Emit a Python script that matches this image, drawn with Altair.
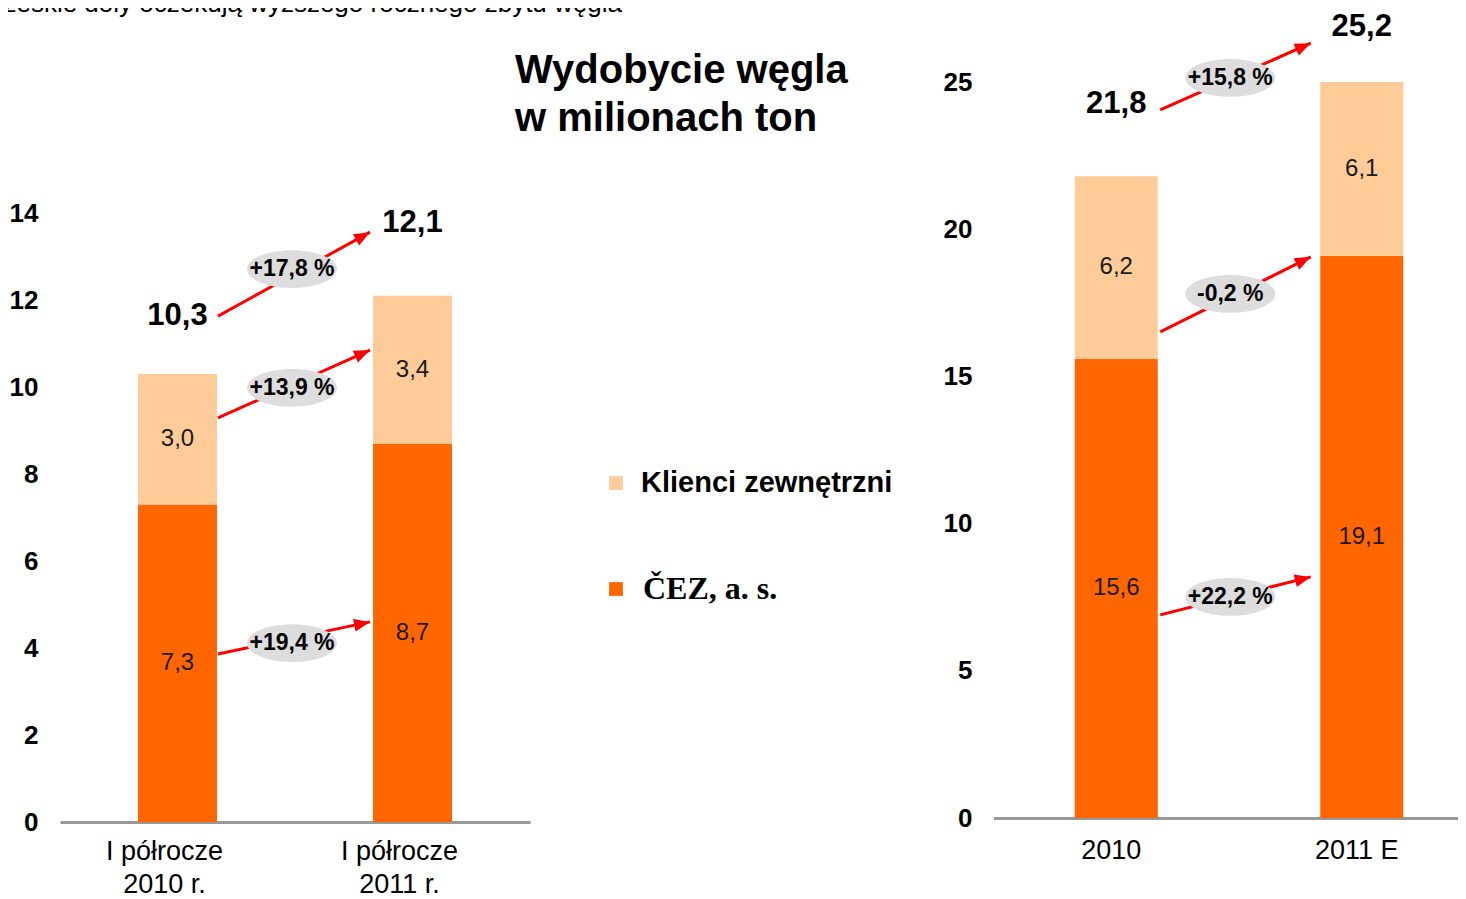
import math
import altair as alt
import pandas as pd

# ---------------- data ----------------
TOP_TEXT = "Czeskie doły oczekują wyższego rocznego zbytu węgla"
TITLE_LINES = ["Wydobycie węgla", "w milionach ton"]
SERIES = ["Klienci zewnętrzni", "ČEZ, a. s."]
COLORS = ["#FFCC99", "#FF6600"]

# half-year panel
cats_h = ["I półrocze\n2010 r.", "I półrocze\n2011 r."]
cez_h = [7.3, 8.7]
ext_h = [3.0, 3.4]
tot_h = [10.3, 12.1]
pct_h = ["+17,8 %", "+13,9 %", "+19,4 %"]   # total, external, ČEZ
yticks_h = [0, 2, 4, 6, 8, 10, 12, 14]

# full-year panel
cats_y = ["2010", "2011 E"]
cez_y = [15.6, 19.1]
ext_y = [6.2, 6.1]
tot_y = [21.8, 25.2]
pct_y = ["+15,8 %", "-0,2 %", "+22,2 %"]
yticks_y = [0, 5, 10, 15, 20, 25]

# annotation anchor heights, in data units
arrow_from_h = [11.63, 9.29, 3.86]
arrow_to_h = [13.56, 10.85, 4.60]
bubble_h = [12.71, 9.98, 4.11]
total_lbl_h = [11.63, 13.77]

arrow_from_y = [24.05, 16.51, 6.90]
arrow_to_y = [26.32, 19.06, 8.19]
bubble_y = [25.14, 17.80, 7.51]
total_lbl_y = [24.25, 26.87]

# ---------------- helpers ----------------
W, H = 1450, 891
SANS = "Liberation Sans, Arial, sans-serif"
NARROW = "Liberation Sans Narrow, Arial Narrow, Liberation Sans, sans-serif"
SERIF = "Liberation Serif, Times New Roman, serif"
ARROW = "M 0 0 L 0.8 2 L -0.8 2 Z"
ELLIPSE = "M -1 0 A 1 0.42 0 1 1 1 0 A 1 0.42 0 1 1 -1 0 Z"


def fmt(v):
    return f"{v:.1f}".replace(".", ",")


def panel(cats, cez, ext, tot, pcts, a_from, a_to, bub, tl, ymax, yticks,
          xrange, yrange, barsize, off_start, off_end, bub_off,
          x_off, y_off, y_lab_pad, x_lab_pad, x_lab_dx):
    rows = []
    for i, c in enumerate(cats):
        rows.append(dict(kat=c, series=SERIES[1], ord=0, v=cez[i],
                         y0=0.0, y1=cez[i]))
        rows.append(dict(kat=c, series=SERIES[0], ord=1, v=ext[i],
                         y0=cez[i], y1=min(cez[i] + ext[i], ymax)))
    df = pd.DataFrame(rows)
    df["mid"] = (df.y0 + df.y1) / 2
    df["lbl"] = df.v.map(fmt)

    xs = alt.Scale(domain=cats, range=xrange, paddingInner=0, paddingOuter=0)
    ys = alt.Scale(domain=[0, ymax], range=yrange, nice=False)

    xaxis = alt.Axis(orient="bottom", offset=x_off, title=None, ticks=False,
                     grid=False, domainColor="#999999", domainWidth=3,
                     labelFont=SANS, labelFontSize=27, labelColor="black",
                     labelAngle=0, labelPadding=x_lab_pad, labelLineHeight=33,
                     labelBaseline="top", labelOffset=x_lab_dx,
                     labelExpr="split(datum.label, '\\n')")
    yaxis = alt.Axis(orient="left", offset=y_off, title=None, ticks=False,
                     grid=False, domain=False, values=yticks,
                     labelFont=NARROW, labelFontWeight="bold",
                     labelFontSize=26, labelColor="black",
                     labelPadding=y_lab_pad, labelOverlap=False)

    bars = alt.Chart(df).mark_bar(size=barsize).encode(
        x=alt.X("kat:N", scale=xs, axis=xaxis, sort=cats),
        y=alt.Y("y0:Q", scale=ys, axis=yaxis),
        y2="y1:Q",
        color=alt.Color("series:N",
                        scale=alt.Scale(domain=SERIES, range=COLORS),
                        legend=None),
    )
    seg_lbl = alt.Chart(df).mark_text(font=SANS, fontSize=24,
                                      color="#1a1a1a").encode(
        x=alt.X("kat:N", scale=xs, axis=None),
        y=alt.Y("mid:Q", scale=ys, axis=None),
        text="lbl:N",
    )

    dft = pd.DataFrame(dict(kat=cats, yl=tl, lbl=[fmt(t) for t in tot]))
    tot_lbl = alt.Chart(dft).mark_text(font=SANS, fontSize=31,
                                       fontWeight="bold",
                                       color="black").encode(
        x=alt.X("kat:N", scale=xs, axis=None),
        y=alt.Y("yl:Q", scale=ys, axis=None),
        text="lbl:N",
    )

    step = (xrange[1] - xrange[0]) / 2
    pxu = (yrange[0] - yrange[1]) / ymax
    dx = step - off_start + off_end
    angs = [math.degrees(math.atan2(dx, (b - a) * pxu))
            for a, b in zip(a_from, a_to)]
    dfa = pd.DataFrame(dict(c0=[cats[0]] * 3, c1=[cats[1]] * 3,
                            ya=a_from, yb=a_to, yc=bub, pct=pcts, ang=angs))

    rules = alt.Chart(dfa).mark_rule(color="#FF0000", strokeWidth=3,
                                     xOffset=off_start,
                                     x2Offset=off_end).encode(
        x=alt.X("c0:N", scale=xs, axis=None),
        x2="c1:N",
        y=alt.Y("ya:Q", scale=ys, axis=None),
        y2="yb:Q",
    )
    heads = alt.Chart(dfa).mark_point(shape=ARROW, size=256, filled=True,
                                      color="#FF0000", opacity=1,
                                      strokeWidth=0,
                                      xOffset=off_end).encode(
        x=alt.X("c1:N", scale=xs, axis=None),
        y=alt.Y("yb:Q", scale=ys, axis=None),
        angle=alt.Angle("ang:Q", scale=None),
    )
    bubbles = alt.Chart(dfa).mark_point(shape=ELLIPSE, size=8100,
                                        filled=True, color="#DDDDDD",
                                        opacity=1, strokeWidth=0,
                                        xOffset=bub_off).encode(
        x=alt.X("c0:N", scale=xs, axis=None),
        y=alt.Y("yc:Q", scale=ys, axis=None),
    )
    pct_txt = alt.Chart(dfa).mark_text(font=SANS, fontSize=23,
                                       fontWeight="bold", color="black",
                                       xOffset=bub_off).encode(
        x=alt.X("c0:N", scale=xs, axis=None),
        y=alt.Y("yc:Q", scale=ys, axis=None),
        text="pct:N",
    )
    return [bars, seg_lbl, tot_lbl, rules, heads, bubbles, pct_txt]


left = panel(cats_h, cez_h, ext_h, tot_h, pct_h, arrow_from_h, arrow_to_h,
             bubble_h, total_lbl_h, 14, yticks_h,
             xrange=[52, 522], yrange=[814, 205], barsize=79,
             off_start=40.5, off_end=-42.5, bub_off=114.5,
             x_off=814 - H, y_off=-52, y_lab_pad=22, x_lab_pad=16,
             x_lab_dx=-13)

right = panel(cats_y, cez_y, ext_y, tot_y, pct_y, arrow_from_y, arrow_to_y,
              bubble_y, total_lbl_y, 25, yticks_y,
              xrange=[985.5, 1476.5], yrange=[810, 74], barsize=83,
              off_start=44, off_end=-51, bub_off=114,
              x_off=810 - H, y_off=-985.5, y_lab_pad=21.5, x_lab_pad=19,
              x_lab_dx=-5)

one = pd.DataFrame({"k": [0]})

top_text = alt.Chart(one).mark_text(font=SANS, fontSize=26, align="right",
                                    baseline="alphabetic",
                                    color="black").encode(
    x=alt.value(614), y=alt.value(3.5), text=alt.value(TOP_TEXT))

title = alt.Chart(one).mark_text(font=SANS, fontSize=40, fontWeight="bold",
                                 align="left", baseline="alphabetic",
                                 lineHeight=48, color="black").encode(
    x=alt.value(507), y=alt.value(75), text=alt.value(TITLE_LINES))

leg_sq1 = alt.Chart(one).mark_point(shape="square", size=190, filled=True,
                                    opacity=1, strokeWidth=0).encode(
    x=alt.value(608), y=alt.value(475), color=alt.value(COLORS[0]))
leg_sq2 = alt.Chart(one).mark_point(shape="square", size=190, filled=True,
                                    opacity=1, strokeWidth=0).encode(
    x=alt.value(608), y=alt.value(581), color=alt.value(COLORS[1]))
leg_t1 = alt.Chart(one).mark_text(font=SANS, fontSize=29, fontWeight="bold",
                                  align="left", baseline="middle",
                                  color="black").encode(
    x=alt.value(633), y=alt.value(475), text=alt.value(SERIES[0]))
leg_t2 = alt.Chart(one).mark_text(font=SERIF, fontSize=32, fontWeight="bold",
                                  align="left", baseline="middle",
                                  color="black").encode(
    x=alt.value(635), y=alt.value(581), text=alt.value(SERIES[1]))

chart = alt.layer(
    *left, *right, top_text, title, leg_sq1, leg_sq2, leg_t1, leg_t2
).resolve_scale(
    x="independent", y="independent"
).properties(
    width=W, height=H, padding=0,
    autosize=alt.AutoSizeParams(type="none"),
).configure_view(stroke=None)

chart.save("out.html", embed_options={"renderer": "svg", "actions": False})
